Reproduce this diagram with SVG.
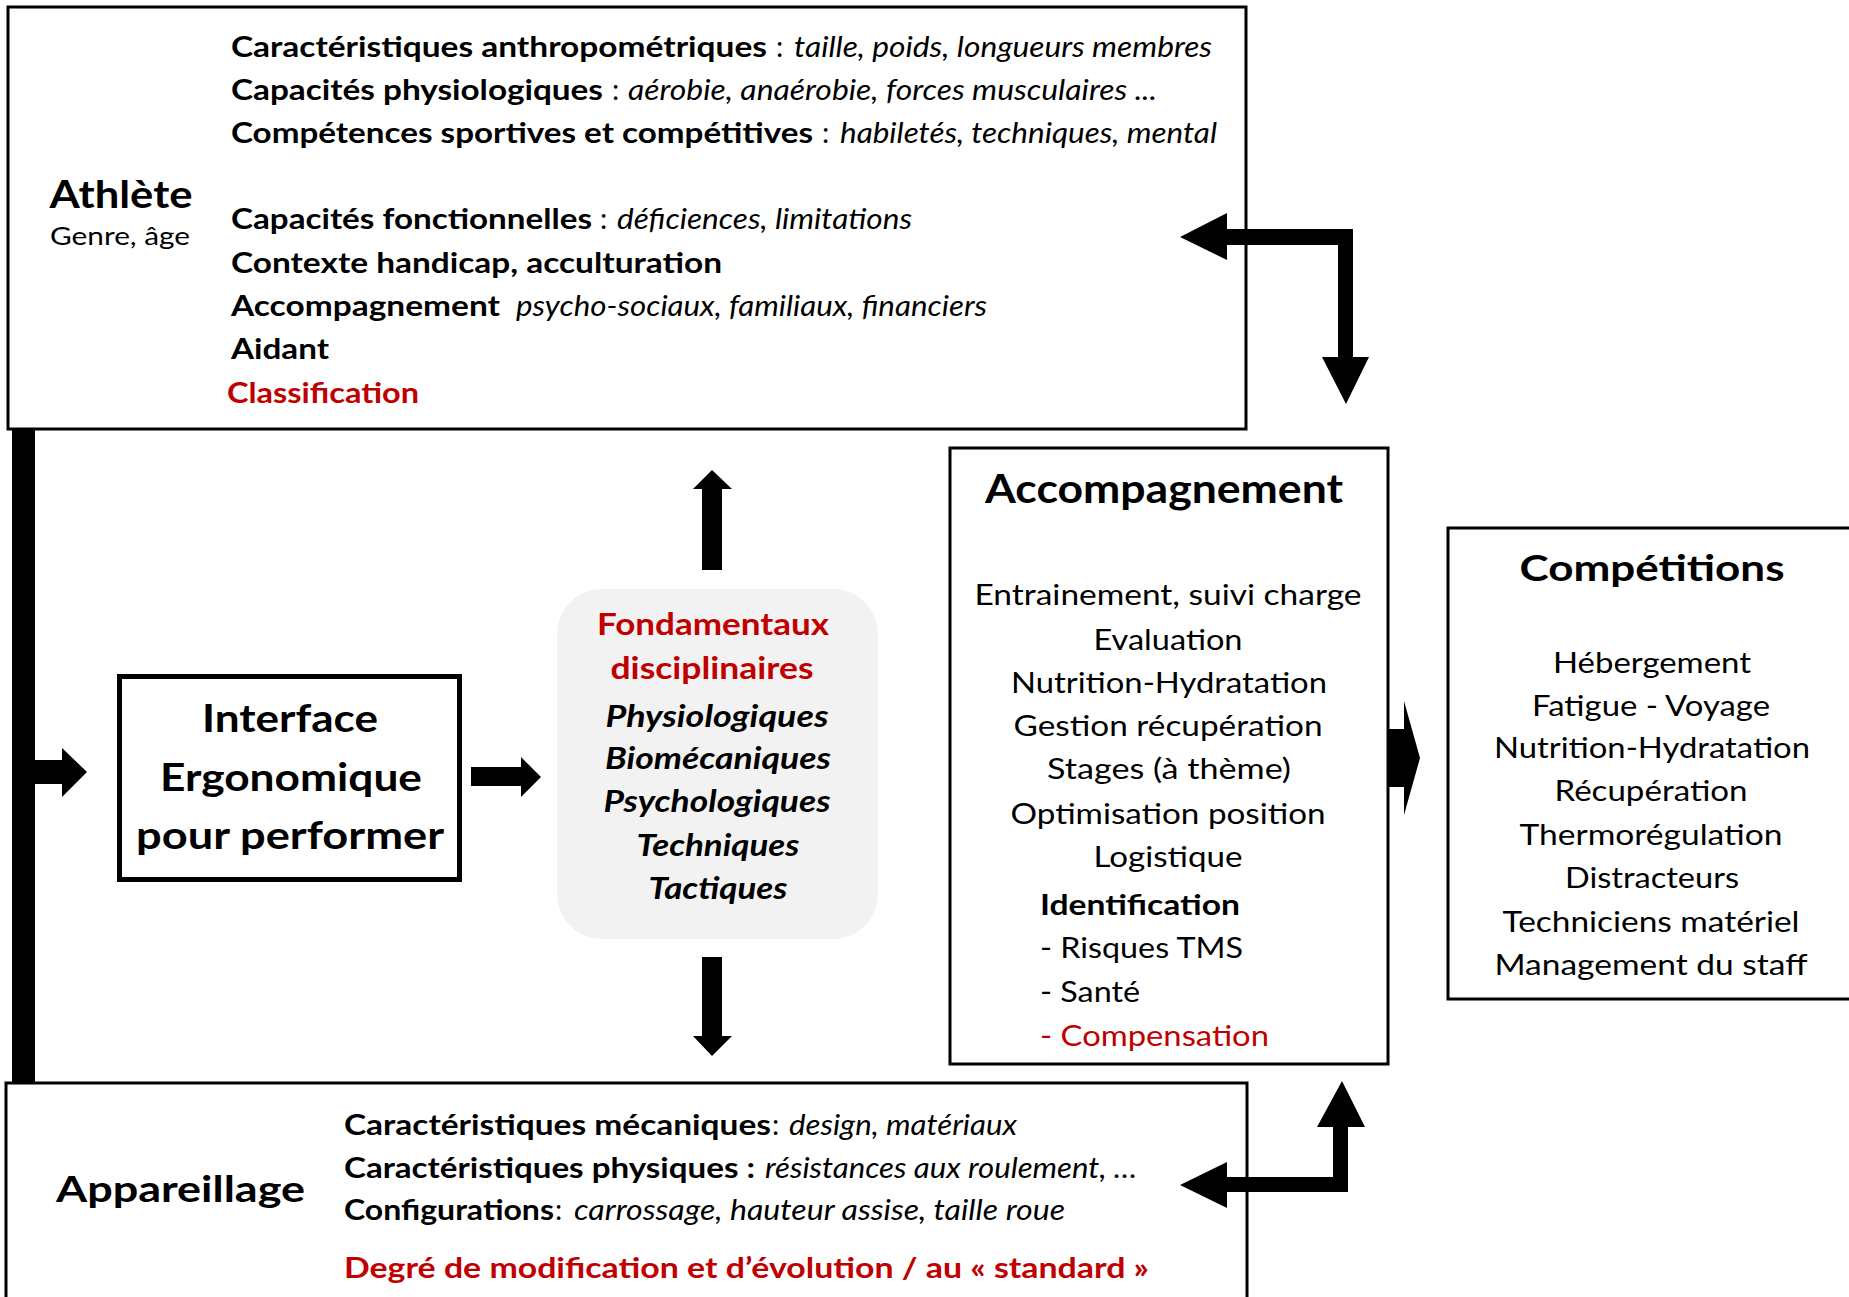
<svg xmlns="http://www.w3.org/2000/svg" width="1849" height="1297" viewBox="0 0 1849 1297">
<style>
text{font-family:Lato,"Open Sans","Liberation Sans",sans-serif;fill:#000}
.b{font-weight:bold}
.i{font-style:italic}
.r{fill:#c00000}
.t{font-size:29px}
.c{text-anchor:middle}
.box{fill:#fff;stroke:#000;stroke-width:3}
.arr{fill:#000;stroke:none}
</style>
<rect width="1849" height="1297" fill="#fff"/>

<g id="athlete">
<rect class="box" x="8" y="7" width="1238" height="422"/>
<text class="b c" x="121" y="208" font-size="38" textLength="143" lengthAdjust="spacingAndGlyphs">Athlète</text>
<text class="c" x="120" y="245" font-size="25" textLength="140" lengthAdjust="spacingAndGlyphs">Genre, âge</text>
<text class="t b" x="231" y="57" textLength="536" lengthAdjust="spacingAndGlyphs">Caractéristiques anthropométriques</text>
<text class="t" x="776" y="57">:</text>
<text class="t i" x="794" y="57" textLength="418" lengthAdjust="spacingAndGlyphs">taille, poids, longueurs membres</text>
<text class="t b" x="231" y="100" textLength="372" lengthAdjust="spacingAndGlyphs">Capacités physiologiques</text>
<text class="t" x="612" y="100">:</text>
<text class="t i" x="628" y="100" textLength="529" lengthAdjust="spacingAndGlyphs">aérobie, anaérobie, forces musculaires ...</text>
<text class="t b" x="231" y="143" textLength="582" lengthAdjust="spacingAndGlyphs">Compétences sportives et compétitives</text>
<text class="t" x="822" y="143">:</text>
<text class="t i" x="840" y="143" textLength="377" lengthAdjust="spacingAndGlyphs">habiletés, techniques, mental</text>
<text class="t b" x="231" y="229" textLength="361" lengthAdjust="spacingAndGlyphs">Capacités fonctionnelles</text>
<text class="t" x="600" y="229">:</text>
<text class="t i" x="617" y="229" textLength="295" lengthAdjust="spacingAndGlyphs">déficiences, limitations</text>
<text class="t b" x="231" y="273" textLength="491" lengthAdjust="spacingAndGlyphs">Contexte handicap, acculturation</text>
<text class="t b" x="231" y="316" textLength="269" lengthAdjust="spacingAndGlyphs">Accompagnement</text>
<text class="t i" x="516" y="316" textLength="471" lengthAdjust="spacingAndGlyphs">psycho-sociaux, familiaux, financiers</text>
<text class="t b" x="231" y="359" textLength="98" lengthAdjust="spacingAndGlyphs">Aidant</text>
<text class="t b r" x="227" y="403" textLength="192" lengthAdjust="spacingAndGlyphs">Classification</text>
</g>

<g id="appareillage">
<rect class="box" x="6" y="1083" width="1241" height="300"/>
<text class="b" x="56" y="1202" font-size="37" textLength="249" lengthAdjust="spacingAndGlyphs">Appareillage</text>
<text class="t b" x="344" y="1135" textLength="427" lengthAdjust="spacingAndGlyphs">Caractéristiques mécaniques</text>
<text class="t" x="772" y="1135">:</text>
<text class="t i" x="789" y="1135" textLength="228" lengthAdjust="spacingAndGlyphs">design, matériaux</text>
<text class="t b" x="344" y="1178" textLength="411" lengthAdjust="spacingAndGlyphs">Caractéristiques physiques :</text>
<text class="t i" x="765" y="1178" textLength="372" lengthAdjust="spacingAndGlyphs">résistances aux roulement, …</text>
<text class="t b" x="344" y="1220" textLength="210" lengthAdjust="spacingAndGlyphs">Configurations</text>
<text class="t" x="555" y="1220">:</text>
<text class="t i" x="574" y="1220" textLength="491" lengthAdjust="spacingAndGlyphs">carrossage, hauteur assise, taille roue</text>
<text class="t b r" x="344" y="1278" textLength="805" lengthAdjust="spacingAndGlyphs">Degré de modification et d’évolution / au « standard »</text>
</g>

<g id="interface">
<rect x="119.5" y="676.5" width="340" height="203" fill="#fff" stroke="#000" stroke-width="5"/>
<text class="b c" x="290" y="732" font-size="39" textLength="176" lengthAdjust="spacingAndGlyphs">Interface</text>
<text class="b c" x="291" y="791" font-size="39" textLength="262" lengthAdjust="spacingAndGlyphs">Ergonomique</text>
<text class="b c" x="290" y="849" font-size="39" textLength="308" lengthAdjust="spacingAndGlyphs">pour performer</text>
</g>

<g id="fondamentaux">
<rect x="557" y="589" width="321" height="350" rx="45" ry="45" fill="#f2f2f2"/>
<text class="b r c" x="713" y="635" font-size="31" textLength="232" lengthAdjust="spacingAndGlyphs">Fondamentaux</text>
<text class="b r c" x="712" y="679" font-size="31" textLength="203" lengthAdjust="spacingAndGlyphs">disciplinaires</text>
<text class="b i c" x="717" y="727" font-size="30" textLength="223" lengthAdjust="spacingAndGlyphs">Physiologiques</text>
<text class="b i c" x="718" y="769" font-size="30" textLength="226" lengthAdjust="spacingAndGlyphs">Biomécaniques</text>
<text class="b i c" x="717" y="812" font-size="30" textLength="227" lengthAdjust="spacingAndGlyphs">Psychologiques</text>
<text class="b i c" x="718" y="856" font-size="30" textLength="163" lengthAdjust="spacingAndGlyphs">Techniques</text>
<text class="b i c" x="718" y="899" font-size="30" textLength="139" lengthAdjust="spacingAndGlyphs">Tactiques</text>
</g>

<g id="accompagnement">
<rect class="box" x="950" y="448" width="438" height="616"/>
<text class="b c" x="1164" y="503" font-size="40" textLength="358" lengthAdjust="spacingAndGlyphs">Accompagnement</text>
<text class="c" x="1168" y="605" font-size="28.5" textLength="387" lengthAdjust="spacingAndGlyphs">Entrainement, suivi charge</text>
<text class="c" x="1168" y="650" font-size="28.5" textLength="149" lengthAdjust="spacingAndGlyphs">Evaluation</text>
<text class="c" x="1169" y="693" font-size="28.5" textLength="316" lengthAdjust="spacingAndGlyphs">Nutrition-Hydratation</text>
<text class="c" x="1168" y="736" font-size="28.5" textLength="309" lengthAdjust="spacingAndGlyphs">Gestion récupération</text>
<text class="c" x="1169" y="779" font-size="28.5" textLength="244" lengthAdjust="spacingAndGlyphs">Stages (à thème)</text>
<text class="c" x="1168" y="824" font-size="28.5" textLength="315" lengthAdjust="spacingAndGlyphs">Optimisation position</text>
<text class="c" x="1168" y="867" font-size="28.5" textLength="149" lengthAdjust="spacingAndGlyphs">Logistique</text>
<text class="b" x="1040" y="915" font-size="28.5" textLength="200" lengthAdjust="spacingAndGlyphs">Identification</text>
<text x="1040" y="958" font-size="28.5" textLength="203" lengthAdjust="spacingAndGlyphs">- Risques TMS</text>
<text x="1040" y="1002" font-size="28.5" textLength="100" lengthAdjust="spacingAndGlyphs">- Santé</text>
<text class="r" x="1040" y="1046" font-size="28.5" textLength="229" lengthAdjust="spacingAndGlyphs">- Compensation</text>
</g>

<g id="competitions">
<rect class="box" x="1448" y="528" width="410" height="471"/>
<text class="b c" x="1652" y="581" font-size="37" textLength="265" lengthAdjust="spacingAndGlyphs">Compétitions</text>
<text class="c" x="1652" y="673" font-size="28.5" textLength="198" lengthAdjust="spacingAndGlyphs">Hébergement</text>
<text class="c" x="1651" y="716" font-size="28.5" textLength="238" lengthAdjust="spacingAndGlyphs">Fatigue - Voyage</text>
<text class="c" x="1652" y="758" font-size="28.5" textLength="316" lengthAdjust="spacingAndGlyphs">Nutrition-Hydratation</text>
<text class="c" x="1651" y="801" font-size="28.5" textLength="193" lengthAdjust="spacingAndGlyphs">Récupération</text>
<text class="c" x="1651" y="845" font-size="28.5" textLength="263" lengthAdjust="spacingAndGlyphs">Thermorégulation</text>
<text class="c" x="1652" y="888" font-size="28.5" textLength="174" lengthAdjust="spacingAndGlyphs">Distracteurs</text>
<text class="c" x="1651" y="932" font-size="28.5" textLength="297" lengthAdjust="spacingAndGlyphs">Techniciens matériel</text>
<text class="c" x="1651" y="975" font-size="28.5" textLength="313" lengthAdjust="spacingAndGlyphs">Management du staff</text>
</g>

<g id="connectors">
<rect class="arr" x="12" y="429" width="23" height="654"/>
<polygon class="arr" points="35,760 62,760 62,748 87,772 62,797 62,784 35,784"/>
<polygon class="arr" points="471,767 521,767 521,757 541,777 521,797 521,786 471,786"/>
<polygon class="arr" points="702,570 702,489 693,489 712,470 732,489 722,489 722,570"/>
<polygon class="arr" points="702,957 722,957 722,1036 732,1036 712,1056 693,1036 702,1036"/>
<polygon class="arr" points="1388,729 1404,729 1404,701 1420,758 1404,815 1404,787 1388,787"/>
<polygon class="arr" points="1180,237 1227,213 1227,229 1353,229 1353,357 1369,357 1346,404 1322,357 1338,357 1338,245 1227,245 1227,260"/>
<polygon class="arr" points="1180,1185 1227,1162 1227,1177 1333,1177 1333,1127 1317,1127 1342,1081 1365,1127 1348,1127 1348,1192 1227,1192 1227,1208"/>
</g>
</svg>
